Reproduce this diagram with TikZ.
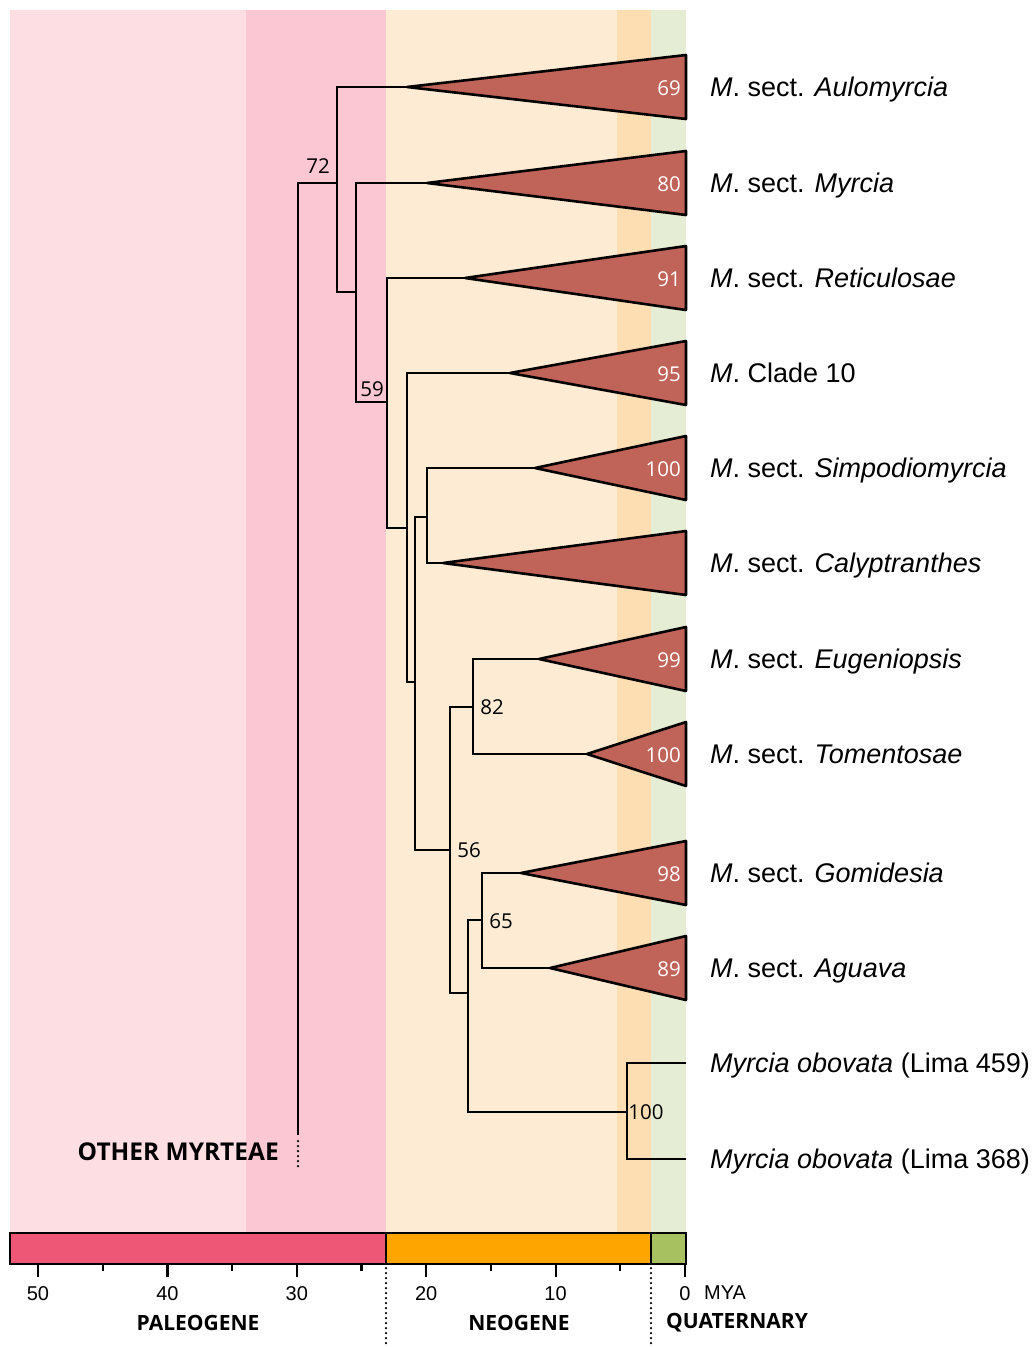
\documentclass[tikz,border=0pt]{standalone}
\usepackage{fontspec}
\setmainfont{Liberation Sans}
\newfontfamily\myr{Open Sans}
\definecolor{bgA}{RGB}{253,222,227}
\definecolor{bgB}{RGB}{251,199,210}
\definecolor{bgC}{RGB}{253,235,211}
\definecolor{bgD}{RGB}{253,221,178}
\definecolor{bgE}{RGB}{229,237,212}
\definecolor{barA}{RGB}{238,87,117}
\definecolor{barB}{RGB}{255,165,0}
\definecolor{barC}{RGB}{167,192,96}
\definecolor{triC}{RGB}{192,99,88}
\begin{document}
\begin{tikzpicture}[x=1pt,y=-1pt,
  br/.style={line width=2.6pt, line join=miter},
  tri/.style={draw=black, line width=2.6pt, fill=triC, line join=round},
  tnum/.style={anchor=east, text=white, font=\myr\fontsize{20.5}{21}\selectfont, inner sep=0pt},
  bnum/.style={font=\myr\fontsize{20.5}{21}\selectfont, inner sep=0pt},
  lab/.style={anchor=base west, font=\fontsize{27}{27}\selectfont, inner sep=0pt},
  axnum/.style={font=\fontsize{20}{20}\selectfont, inner sep=0pt},
  period/.style={font=\myr\bfseries\fontsize{21}{21}\selectfont, inner sep=0pt},
  tickmark/.style={line width=2.2pt},
  dots/.style={line width=2.5pt, line cap=round, dash pattern=on 0pt off 5pt}]
\useasboundingbox (0,0) rectangle (1033,1347);
% background bands
\fill[bgA] (10,10) rectangle (246,1233);
\fill[bgB] (246,10) rectangle (386,1233);
\fill[bgC] (386,10) rectangle (617,1233);
\fill[bgD] (617,10) rectangle (651,1233);
\fill[bgE] (651,10) rectangle (686,1233);
% bottom bar
\fill[barA] (10,1233) rectangle (386,1264);
\fill[barB] (386,1233) rectangle (651,1264);
\fill[barC] (651,1233) rectangle (686,1264);
\draw[line width=2.4pt] (10,1233) rectangle (686,1264);
\draw[line width=2.4pt] (386,1233) -- (386,1264);
\draw[line width=2.4pt] (651,1233) -- (651,1264);
% ticks
\foreach \t in {0,10,...,50} {
  \draw[tickmark] ({685-12.94*\t},1264) -- ++(0,13);
  \node[axnum] (ax\t) at ({685-12.94*\t},1294) {\t};
}
\foreach \t in {5,15,...,45} {
  \draw[tickmark] ({685-12.94*\t},1264) -- ++(0,7);
}
\node[axnum, anchor=west] (mya) at (704,1293) {MYA};
\node[period] (paleo) at (198,1323) {PALEOGENE};
\node[period] (neo) at (519,1323) {NEOGENE};
\node[period] (quat) at (737,1323) {QUATERNARY};
\draw[dots] (386,1268) -- (386,1347);
\draw[dots] (651,1268) -- (651,1347);
% triangles (collapsed clades)
\foreach \nm/\tx/\ty/\num in {1/407/87/69, 2/427/183/80, 3/465/278/91, 4/510/373/95, 5/535/468/100, 6/443/563/, 7/539/659/99, 8/587/754/100, 9/521/873/98, 10/550/968/89} {
  \coordinate (t\nm) at (\tx,\ty);
  \draw[tri] (t\nm) -- (686,\ty-32) -- (686,\ty+32) -- cycle;
  \node[tnum] (n\nm) at (681,\ty+1) {\num};
}
% joints
\coordinate (rootEnd) at (298,1135);
\coordinate (rootDots) at (298,1168);
\coordinate (jA) at (337,183);
\coordinate (aBot) at (337,292);
\coordinate (jB) at (356,292);
\coordinate (bBot) at (356,402);
\coordinate (jC) at (387,402);
\coordinate (cBot) at (387,528);
\coordinate (jD) at (407,528);
\coordinate (dBot) at (407,682);
\coordinate (jE) at (415,682);
\coordinate (jF) at (427,517);
\coordinate (eBot) at (415,850);
\coordinate (jG) at (450,850);
\coordinate (fBot) at (427,563);
\coordinate (jH) at (473,707);
\coordinate (gBot) at (450,993);
\coordinate (jI) at (468,993);
\coordinate (hBot) at (473,754);
\coordinate (jJ) at (482,920);
\coordinate (iBot) at (468,1112);
\coordinate (jK) at (627,1112);
\coordinate (jBot) at (482,968);
\coordinate (leafA) at (686,1063);
\coordinate (kBot) at (627,1159);
\coordinate (leafB) at (686,1159);
% branches
\draw[br] (rootEnd) |- (jA);
\draw[dots] (rootEnd) ++(0,6) -- (rootDots);
\draw[br] (t1) -| (aBot) -- (jB);
\draw[br] (t2) -| (bBot) -- (jC);
\draw[br] (t3) -| (cBot) -- (jD);
\draw[br] (t4) -| (dBot) -- (jE);
\draw[br] (jF) -| (eBot) -- (jG);
\draw[br] (t5) -| (fBot) -- (t6);
\draw[br] (jH) -| (gBot) -- (jI);
\draw[br] (t7) -| (hBot) -- (t8);
\draw[br] (jJ) -| (iBot) -- (jK);
\draw[br] (t9) -| (jBot) -- (t10);
\draw[br] (leafA) -| (kBot) -- (leafB);
% support values
\node[bnum] (s72) at (318,166) {72};
\node[bnum] (s59) at (372,389) {59};
\node[bnum] (s82) at (492,707) {82};
\node[bnum] (s56) at (469,850) {56};
\node[bnum] (s65) at (501,921) {65};
\node[bnum] (s100) at (646,1112) {100};
% taxon labels
\node[lab] (L1) at (710,96) {\textit{M}. sect. \textit{Aulomyrcia}};
\node[lab] (L2) at (710,192) {\textit{M}. sect. \textit{Myrcia}};
\node[lab] (L3) at (710,287) {\textit{M}. sect. \textit{Reticulosae}};
\node[lab] (L4) at (710,382) {\textit{M}. Clade 10};
\node[lab] (L5) at (710,477) {\textit{M}. sect. \textit{Simpodiomyrcia}};
\node[lab] (L6) at (710,572) {\textit{M}. sect. \textit{Calyptranthes}};
\node[lab] (L7) at (710,668) {\textit{M}. sect. \textit{Eugeniopsis}};
\node[lab] (L8) at (710,763) {\textit{M}. sect. \textit{Tomentosae}};
\node[lab] (L9) at (710,882) {\textit{M}. sect. \textit{Gomidesia}};
\node[lab] (L10) at (710,977) {\textit{M}. sect. \textit{Aguava}};
\node[lab] (L11) at (710,1072) {\textit{Myrcia obovata} (Lima 459)};
\node[lab] (L12) at (710,1168) {\textit{Myrcia obovata} (Lima 368)};
\node[period, font=\myr\bfseries\fontsize{24.5}{25}\selectfont, anchor=east] (other) at (279,1152) {OTHER MYRTEAE};
\end{tikzpicture}
\end{document}
